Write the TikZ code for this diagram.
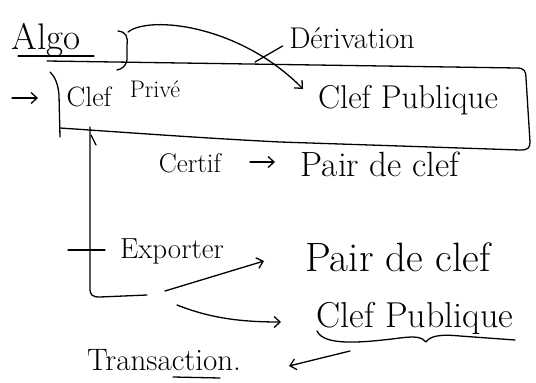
\documentclass[tikz,border=0pt]{standalone}
\usetikzlibrary{arrows.meta}
\begin{document}
\begin{tikzpicture}[x=1pt,y=-1pt,line width=1.3pt,line cap=round,line join=round,
  hw/.style={inner sep=0pt,font={\fontsize{#1}{#1}\selectfont}},
  arr/.style={-{Straight Barb[length=6pt,width=11pt]}}]
\useasboundingbox (0,0) rectangle (536,383);
% text nodes
\node[hw=37] (algo) at (46,40) {Algo};
\node[hw=30] (deriv) at (352,38) {Dérivation};
\node[hw=28] (clef1) at (89,97) {Clef};
\node[hw=24] (prive) at (155,89) {Privé};
\node[hw=33] (pub1) at (408,100) {Clef Publique};
\node[hw=27] (certif) at (190,163) {Certif};
\node[hw=35] (pair1) at (380,164) {Pair de clef};
\node[hw=29] (export) at (172,251) {Exporter};
\node[hw=41] (pair2) at (398,257) {Pair de clef};
\node[hw=36] (pub2) at (415,318) {Clef Publique};
\node[hw=31] (trans) at (164,360) {Transaction.};
% underlines
\draw (18,56) -- (94,56);
\draw (173,377) -- (220,378);
\draw (317,331) .. controls (324,346) and (360,343) .. (400,338)
  .. controls (415,336) and (422,337) .. (426,342)
  .. controls (430,336) and (440,334) .. (460,336) -- (515,340);
% the box
\draw (47,61) -- (517,68) .. controls (524,68) and (526,71) .. (526,78)
  -- (530,142) .. controls (530,148) and (528,150) .. (520,150)
  -- (280,142) .. controls (200,138) and (120,132) .. (60,128);
\draw (50,72) .. controls (56,78) and (58,85) .. (59,95) -- (60,137);
% entry arrow
\coordinate (e0) at (12,98);
\coordinate (e1) at (38,98);
\draw[arr] (e0) -- (e1);
% derivation arc
\coordinate (br) at (128,32);
\coordinate (brb) at (117,70);
\coordinate (d1) at (303,89);
\draw (118,31) .. controls (126,32) and (128,36) .. (127,45)
  -- (127,60) .. controls (126,66) and (122,69) .. (brb);
\draw[arr] (br) .. controls (150,15) and (240,25) .. (d1);
\coordinate (dp) at (255,62);
\draw (dp) -- ([xshift=-6pt,yshift=-8pt]deriv.west);
% certif arrow
\coordinate (c0) at (250,162);
\coordinate (c1) at (275,162);
\draw[arr] (c0) -- (c1);
% vertical line from clef
\coordinate (v0) at (90,127);
\coordinate (v1) at (147,295);
\draw (v0) -- (90,288) .. controls (90,295) and (92,297) .. (100,297) -- (v1);
\draw (91,135) -- (96,145);
\draw (68,250) -- (105,250);
% arrows to outputs
\coordinate (x0) at (165,291);
\coordinate (x1) at (264,261);
\draw[arr] (x0) -- (x1);
\coordinate (y0) at (177,305);
\coordinate (y1) at (281,322);
\draw[arr] (y0) .. controls (210,318) and (240,322) .. (y1);
\coordinate (t0) at (350,351);
\coordinate (t1) at (289,366);
\draw[arr] (t0) -- (t1);
\end{tikzpicture}
\end{document}
